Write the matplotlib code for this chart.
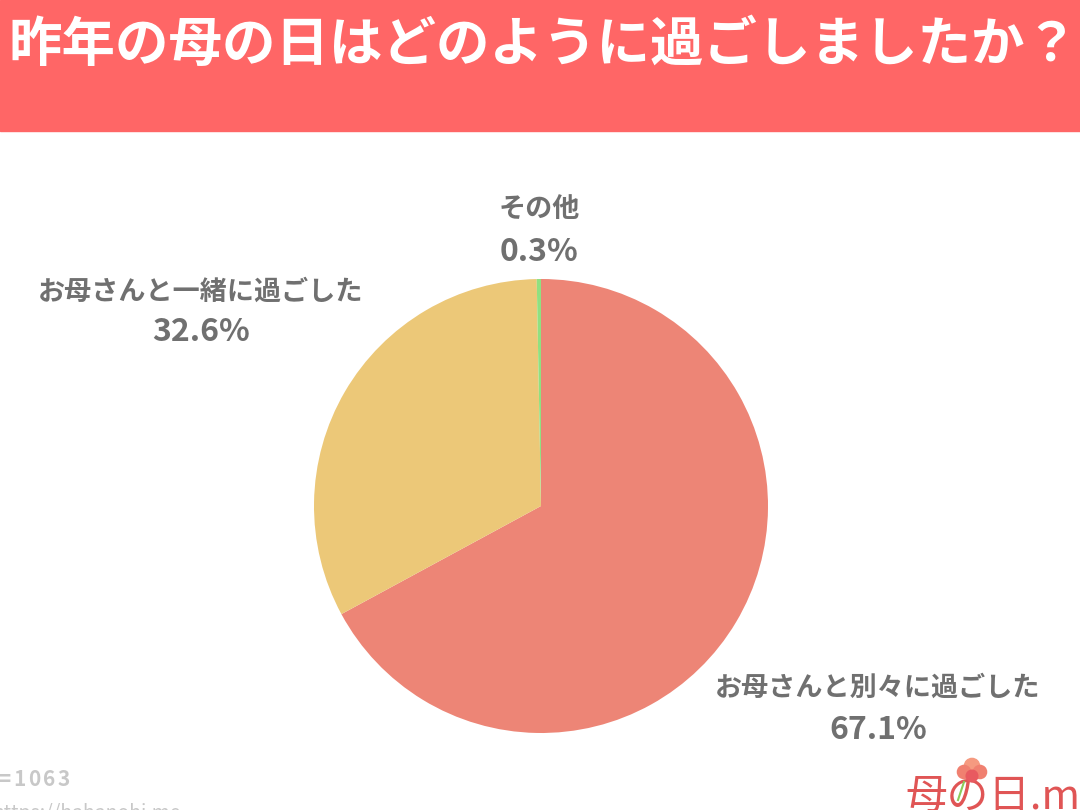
import matplotlib.pyplot as plt
from matplotlib.patches import Rectangle

plt.rcParams['font.family'] = ['Noto Sans CJK JP', 'DejaVu Sans']

TITLE = "昨年の母の日はどのように過ごしましたか？"
LABELS = ["お母さんと別々に過ごした", "お母さんと一緒に過ごした", "その他"]
VALUES = [67.1, 32.6, 0.3]
COLORS = ["#ED8576", "#ECC878", "#90E080"]
N_TEXT = "n=1063"
URL_TEXT = "https://hahanohi.me"

W, H = 1080, 810
fig = plt.figure(figsize=(W / 100, H / 100), dpi=100)
fig.patch.set_facecolor("white")

# title banner
bg = fig.add_axes([0, 0, 1, 1])
bg.set_xlim(0, W)
bg.set_ylim(H, 0)
bg.axis("off")
bg.add_patch(Rectangle((0, 0), W, 131, color="#FF6666", zorder=0))
bg.text(8, 45, TITLE, color="white", fontsize=38.5, fontweight="bold",
        ha="left", va="center")

# pie
cx, cy, r = 541, 506, 227
ax = fig.add_axes([(cx - r) / W, 1 - (cy + r) / H, 2 * r / W, 2 * r / H])
ax.pie(VALUES, colors=COLORS, startangle=90, counterclock=False,
       wedgeprops=dict(linewidth=0))
ax.set_xlim(-1, 1)
ax.set_ylim(-1, 1)
ax.set_aspect("equal")

name_style = dict(color="#707070", fontsize=19.5, fontweight="bold",
                  ha="center", va="center")
pct_style = dict(color="#707070", fontsize=23, fontweight="bold",
                 ha="center", va="center")
label_pos = [(878, 688, 730), (201, 292, 332), (539, 210, 252)]
for name, val, (x, y1, y2) in zip(LABELS, VALUES, label_pos):
    bg.text(x, y1, name, **name_style)
    bg.text(x, y2, f"{val}%", **pct_style)

# footnotes
for i, ch in enumerate(N_TEXT):
    bg.text(-17 + i * 15, 779, ch, color="#C8C8C8", fontsize=15,
            fontweight="bold", ha="left", va="center")
bg.text(-8, 814, URL_TEXT, color="#C8C8C8", fontsize=14, ha="left",
        va="center")

# logo
bg.text(905, 818, "母の日.me", color="#E05555", fontsize=30, ha="left",
        va="bottom")
bg.plot([964, 958], [782, 800], color="#8CCB5A", lw=1.5, zorder=4)
bg.scatter([972, 964, 980, 972], [766, 772, 772, 776], s=[120, 90, 90, 70],
           color=["#F59A80", "#F08070", "#F08070", "#E85A60"], zorder=5)

fig.savefig("out.png", dpi=100)
